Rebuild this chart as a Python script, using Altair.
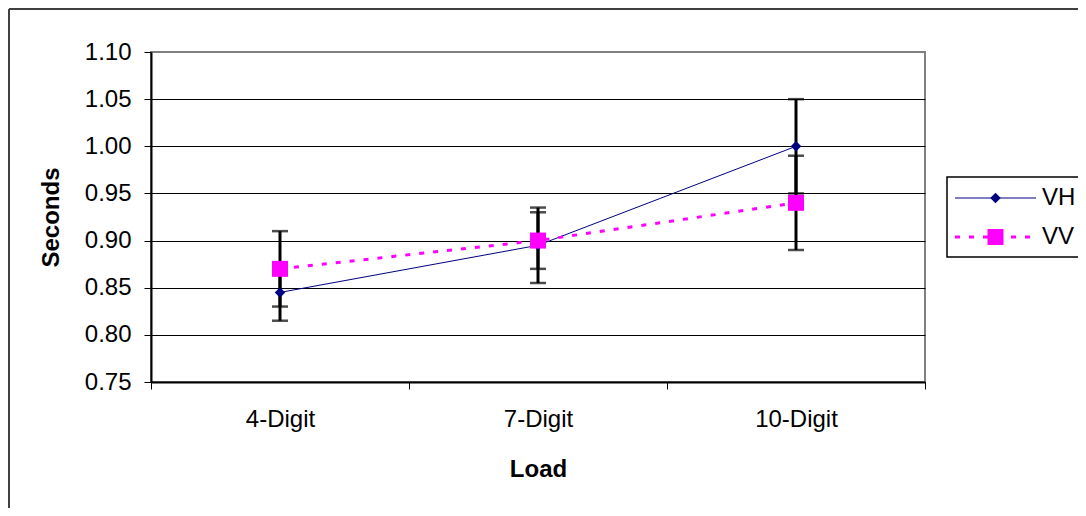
import altair as alt
import pandas as pd

categories = ["4-Digit", "7-Digit", "10-Digit"]
series_names = ["VH", "VV"]
vh_values = [0.845, 0.895, 1.00]
vv_values = [0.87, 0.90, 0.94]
vh_errors = [0.03, 0.04, 0.05]
vv_errors = [0.04, 0.03, 0.05]
y_ticks = [0.75, 0.80, 0.85, 0.90, 0.95, 1.00, 1.05, 1.10]
series_colors = ["#000080", "#FF00FF"]

rows = []
for s, vals, errs in [("VH", vh_values, vh_errors), ("VV", vv_values, vv_errors)]:
    for c, v, e in zip(categories, vals, errs):
        rows.append({"Load": c, "series": s, "value": v,
                     "lo": round(v - e, 4), "hi": round(v + e, 4)})
df = pd.DataFrame(rows)
dummy = pd.DataFrame({"k": [0]})

FONT = "Liberation Sans"
W, H = 774, 330

x_axis = alt.Axis(title="Load", labelAngle=0, labelFont=FONT, labelFontSize=24,
                  labelColor="black", labelPadding=18, tickBand="extent", tickSize=7,
                  tickColor="black", tickWidth=1, domainColor="black", domainWidth=2,
                  grid=False, titleFont=FONT, titleFontSize=24, titleFontWeight="bold",
                  titleColor="black", titleX=387, titleY=87, titleAlign="center",
                  titleBaseline="middle")
x_scale = alt.Scale(type="band", paddingInner=0, paddingOuter=0)
y_scale = alt.Scale(domain=[0.75, 1.10], zero=False, nice=False)
y_axis = alt.Axis(title="Seconds", values=y_ticks, format=".2f", labelFont=FONT,
                  labelFontSize=24, labelColor="black", labelPadding=13, tickSize=7,
                  tickColor="black", tickWidth=1, domainColor="black", domainWidth=2,
                  grid=True,
                  gridColor=alt.condition("datum.value > 1.09", alt.value("#808080"), alt.value("#000000")),
                  gridWidth=1, titleFont=FONT, titleFontSize=24, titleFontWeight="bold",
                  titleColor="black", titleX=-100, titleY=165, titleAngle=270,
                  titleAlign="center", titleBaseline="middle")


def X():
    return alt.X("Load:N", sort=categories, scale=x_scale, axis=x_axis)


def Y(field):
    return alt.Y(f"{field}:Q", scale=y_scale, axis=y_axis, title="Seconds")


layers = []
for s in series_names:
    d = df[df.series == s]
    layers.append(alt.Chart(d).mark_rule(color="black", strokeWidth=3).encode(
        x=X(), y=Y("lo"), y2="hi:Q"))
    layers.append(alt.Chart(d).mark_tick(color="black", thickness=2.5, size=16).encode(
        x=X(), y=Y("lo")))
    layers.append(alt.Chart(d).mark_tick(color="black", thickness=2.5, size=16).encode(
        x=X(), y=Y("hi")))

d_vh = df[df.series == "VH"]
d_vv = df[df.series == "VV"]
layers.append(alt.Chart(d_vh).mark_line(color=series_colors[0], strokeWidth=1).encode(
    x=X(), y=Y("value"), order=alt.Order("order:Q")).transform_calculate(
    order="indexof(" + str(categories) + ", datum.Load)"))
layers.append(alt.Chart(d_vv).mark_line(color=series_colors[1], strokeWidth=3, strokeDash=[5, 9]).encode(
    x=X(), y=Y("value"), order=alt.Order("order:Q")).transform_calculate(
    order="indexof(" + str(categories) + ", datum.Load)"))
layers.append(alt.Chart(d_vh).mark_point(shape="diamond", filled=True, opacity=1,
                                         color=series_colors[0], size=110).encode(
    x=X(), y=Y("value")))
layers.append(alt.Chart(d_vv).mark_point(shape="square", filled=True, opacity=1,
                                         color=series_colors[1], size=256).encode(
    x=X(), y=Y("value")))

# outer chart border (left and top)
layers.append(alt.Chart(dummy).mark_rule(color="#404040", strokeWidth=2).encode(
    x=alt.value(-142), y=alt.value(-43), y2=alt.value(470)))
layers.append(alt.Chart(dummy).mark_rule(color="#404040", strokeWidth=2).encode(
    x=alt.value(-142), x2=alt.value(940), y=alt.value(-43)))

# legend
layers.append(alt.Chart(dummy).mark_rect(fill="white", stroke="black", strokeWidth=1.5).encode(
    x=alt.value(796), x2=alt.value(990), y=alt.value(125), y2=alt.value(205)))
leg_y = [146, 185]
for i, s in enumerate(series_names):
    if i == 0:
        ln = alt.Chart(dummy).mark_rule(color=series_colors[0], strokeWidth=1)
        pt = alt.Chart(dummy).mark_point(shape="diamond", filled=True, opacity=1,
                                         color=series_colors[0], size=110)
    else:
        ln = alt.Chart(dummy).mark_rule(color=series_colors[1], strokeWidth=3, strokeDash=[5, 9])
        pt = alt.Chart(dummy).mark_point(shape="square", filled=True, opacity=1,
                                         color=series_colors[1], size=256)
    layers.append(ln.encode(x=alt.value(804), x2=alt.value(885), y=alt.value(leg_y[i])))
    layers.append(pt.encode(x=alt.value(844.5), y=alt.value(leg_y[i])))
    layers.append(alt.Chart(dummy).mark_text(font=FONT, fontSize=24, color="black",
                                             align="left", baseline="middle").encode(
        x=alt.value(891), y=alt.value(leg_y[i]), text=alt.value(s)))

chart = alt.layer(*layers).properties(
    width=W, height=H,
    autosize=alt.AutoSizeParams(type="none"),
    padding={"left": 143, "top": 44, "right": 153, "bottom": 126},
    background="white",
).configure_view(stroke="#808080", strokeWidth=2)

chart.save("out.html", embed_options={"renderer": "svg", "actions": False})
